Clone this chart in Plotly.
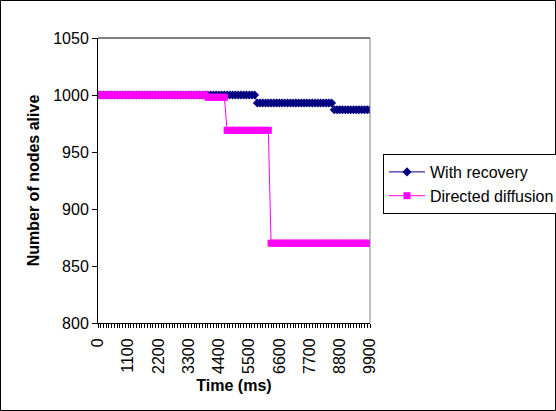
import plotly.graph_objects as go

time_ms = list(range(0, 10000, 100))

with_recovery = [
    1000, 1000, 1000, 1000, 1000, 1000, 1000, 1000, 1000, 1000,
    1000, 1000, 1000, 1000, 1000, 1000, 1000, 1000, 1000, 1000,
    1000, 1000, 1000, 1000, 1000, 1000, 1000, 1000, 1000, 1000,
    1000, 1000, 1000, 1000, 1000, 1000, 1000, 1000, 1000, 1000,
    1000, 1000, 1000, 1000, 1000, 1000, 1000, 1000, 1000, 1000,
    1000, 1000, 1000, 1000, 1000, 1000, 1000, 1000, 993, 993,
    993, 993, 993, 993, 993, 993, 993, 993, 993, 993,
    993, 993, 993, 993, 993, 993, 993, 993, 993, 993,
    993, 993, 993, 993, 993, 993, 987, 987, 987, 987,
    987, 987, 987, 987, 987, 987, 987, 987, 987, 987,
]

directed_diffusion = [
    1000, 1000, 1000, 1000, 1000, 1000, 1000, 1000, 1000, 1000,
    1000, 1000, 1000, 1000, 1000, 1000, 1000, 1000, 1000, 1000,
    1000, 1000, 1000, 1000, 1000, 1000, 1000, 1000, 1000, 1000,
    1000, 1000, 1000, 1000, 1000, 1000, 1000, 1000, 1000, 1000,
    998, 998, 998, 998, 998, 998, 998, 969, 969, 969,
    969, 969, 969, 969, 969, 969, 969, 969, 969, 969,
    969, 969, 969, 870, 870, 870, 870, 870, 870, 870,
    870, 870, 870, 870, 870, 870, 870, 870, 870, 870,
    870, 870, 870, 870, 870, 870, 870, 870, 870, 870,
    870, 870, 870, 870, 870, 870, 870, 870, 870, 870,
]

series_names = ["With recovery", "Directed diffusion"]
y_ticks = [800, 850, 900, 950, 1000, 1050]

FONT = "Liberation Sans, Arial, sans-serif"
FS = 16

fig = go.Figure()
fig.add_trace(go.Scatter(
    x=time_ms, y=with_recovery, name=series_names[0], mode="lines+markers",
    line=dict(color="#000080", width=1),
    marker=dict(symbol="diamond", size=7, color="#000080"),
))
fig.add_trace(go.Scatter(
    x=time_ms, y=directed_diffusion, name=series_names[1], mode="lines+markers",
    line=dict(color="#FF00FF", width=1),
    marker=dict(symbol="square", size=7, color="#FF00FF"),
))

W, H = 556, 411
L, R, T, B = 98, 186, 38, 88
pw, ph = W - L - R, H - T - B

fig.update_layout(
    width=W, height=H,
    margin=dict(l=L, r=R, t=T, b=B, autoexpand=False),
    paper_bgcolor="white", plot_bgcolor="white",
    font=dict(family=FONT, size=FS, color="black"),
    showlegend=True,
    legend=dict(
        x=(383 - L) / pw, y=(T + ph - 154) / ph, xanchor="left", yanchor="top",
        bordercolor="black", borderwidth=1, bgcolor="white",
        font=dict(size=FS), tracegroupgap=0, itemwidth=36,
    ),
    xaxis=dict(
        range=[0, 9900], tickmode="linear", tick0=0, dtick=1100, tickformat="d",
        tickangle=-90, ticks="outside", ticklen=4, tickcolor="black",
        ticklabelstandoff=4,
        showline=True, linecolor="black", linewidth=1,
        showgrid=False, zeroline=False,
        minor=dict(tickmode="linear", tick0=0, dtick=100, ticks="outside", ticklen=4, tickcolor="black", showgrid=False),
        title=dict(text="<b>Time (ms)</b>", font=dict(size=FS), standoff=6),
    ),
    yaxis=dict(
        range=[800, 1050], tickvals=y_ticks, ticks="outside", ticklen=5, tickcolor="black",
        showline=True, linecolor="black", linewidth=1,
        showgrid=False, zeroline=False,
        title=dict(text="<b>Number of nodes alive</b>", font=dict(size=FS), standoff=9),
    ),
    shapes=[
        dict(type="line", xref="paper", yref="paper", x0=0, x1=1, y0=1, y1=1,
             line=dict(color="black", width=1)),
        dict(type="line", xref="paper", yref="paper", x0=1, x1=1, y0=0, y1=1,
             line=dict(color="#808080", width=1)),
        dict(type="rect", xref="paper", yref="paper",
             x0=(0.5 - L) / pw, x1=(W - 0.5 - L) / pw,
             y0=(T + ph - (H - 0.5)) / ph, y1=(T + ph - 0.5) / ph,
             line=dict(color="black", width=1), fillcolor="rgba(0,0,0,0)"),
    ],
)

fig.write_html("out.html")
